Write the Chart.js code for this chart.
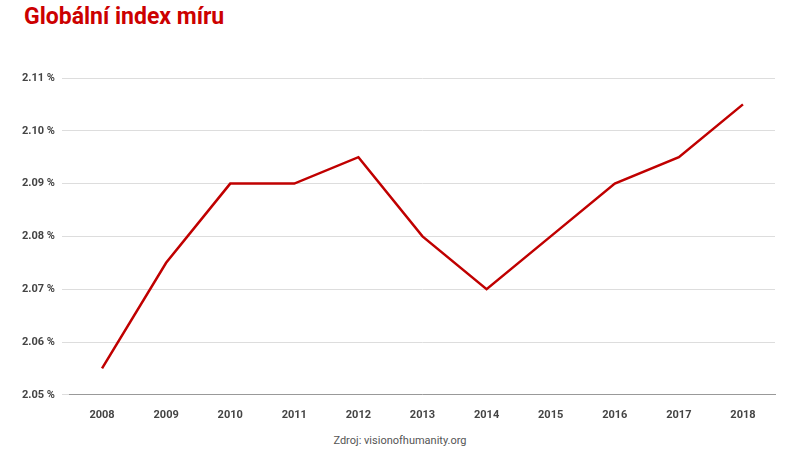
<!DOCTYPE html>
<html><head><meta charset="utf-8">
<script src="https://cdn.jsdelivr.net/npm/chart.js@4"></script>
<style>
body{margin:0;background:#fff;font-family:Roboto,sans-serif}
#t{position:absolute;left:24px;top:3px;color:#c00;font:bold 23px Roboto,sans-serif}
#s{position:absolute;left:0;width:800px;top:434px;text-align:center;color:#555;font:11px Roboto,sans-serif}
#w{position:absolute;left:0;top:63px;width:800px;height:365px}
</style></head><body>
<div id="t">Globální index míru</div>
<div id="w"><canvas id="c"></canvas></div>
<div id="s">Zdroj: visionofhumanity.org</div>
<script>
const categories=["2008","2009","2010","2011","2012","2013","2014","2015","2016","2017","2018"];
const values=[2.055,2.075,2.09,2.09,2.095,2.08,2.07,2.08,2.09,2.095,2.105];
new Chart(document.getElementById('c'),{type:'line',
data:{labels:categories,datasets:[{data:values,borderColor:'#c00000',borderWidth:2.5,pointRadius:0,tension:0}]},
options:{responsive:true,maintainAspectRatio:false,animation:false,
layout:{padding:{left:15,right:25,top:15,bottom:0}},
plugins:{legend:{display:false},tooltip:{enabled:false}},
scales:{
x:{offset:true,grid:{display:false},border:{color:'#999'},ticks:{color:'#444',font:{family:'Roboto',size:11,weight:'bold'},padding:6}},
y:{min:2.05,max:2.11,grid:{color:'#ddd'},border:{display:false},ticks:{stepSize:0.01,color:'#444',padding:7,font:{family:'Roboto',size:11,weight:'bold'},callback:v=>v.toFixed(2)+' %'}}
}}});
</script></body></html>
